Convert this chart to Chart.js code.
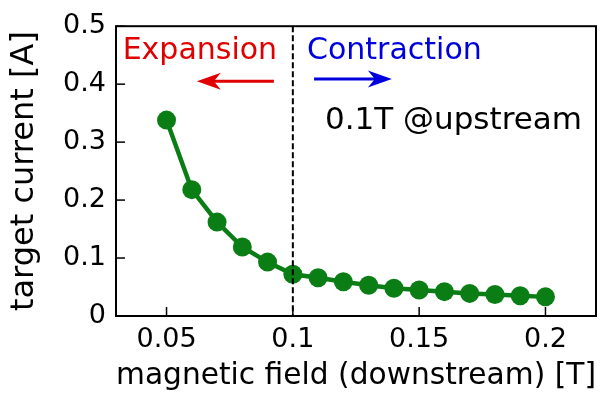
<!DOCTYPE html>
<html>
<head>
<meta charset="UTF-8">
<title>target current vs magnetic field</title>
<script src="https://cdn.jsdelivr.net/npm/chart.js"></script>
<style>
  html, body { margin: 0; padding: 0; background: #fff; }
  #wrap { width: 607px; height: 397px; }
</style>
</head>
<body>
<div id="wrap"><canvas id="chart" width="607" height="397"></canvas></div>
<script>
// data
const fieldDown = [0.05, 0.06, 0.07, 0.08, 0.09, 0.10, 0.11, 0.12, 0.13, 0.14, 0.15, 0.16, 0.17, 0.18, 0.19, 0.20];
const current   = [0.338, 0.218, 0.162, 0.119, 0.093, 0.072, 0.066, 0.059, 0.053, 0.048, 0.045, 0.042, 0.039, 0.037, 0.035, 0.033];
const xTicks = [0.05, 0.1, 0.15, 0.2];
const yTicks = [0, 0.1, 0.2, 0.3, 0.4, 0.5];
const boundary = 0.1;

const FONT = '"DejaVu Sans", sans-serif';
const green = '#0a7d14';

// frame, inward ticks, dashed line and the labels
const decor = {
    id: 'decor',
    afterDatasetsDraw(chart) {
        const { ctx, chartArea: a, scales: { x, y } } = chart;
        ctx.save();

        // dashed boundary
        const bx = x.getPixelForValue(boundary);
        ctx.strokeStyle = '#000';
        ctx.lineWidth = 2;
        ctx.setLineDash([6, 3]);
        ctx.beginPath();
        ctx.moveTo(bx, a.top);
        ctx.lineTo(bx, a.bottom);
        ctx.stroke();
        ctx.setLineDash([]);

        // tick marks pointing in
        ctx.lineWidth = 1.5;
        xTicks.forEach(v => {
            const px = x.getPixelForValue(v);
            ctx.beginPath();
            ctx.moveTo(px, a.bottom);
            ctx.lineTo(px, a.bottom - 9);
            ctx.stroke();
        });
        yTicks.forEach(v => {
            const py = y.getPixelForValue(v);
            ctx.beginPath();
            ctx.moveTo(a.left, py);
            ctx.lineTo(a.left + 9, py);
            ctx.stroke();
        });

        // box
        ctx.lineWidth = 2;
        ctx.strokeRect(a.left, a.top, a.right - a.left, a.bottom - a.top);

        // text labels
        ctx.textBaseline = 'middle';
        ctx.font = '30px ' + FONT;
        ctx.fillStyle = '#e00000';
        ctx.textAlign = 'center';
        ctx.fillText('Expansion', x.getPixelForValue(0.0632), y.getPixelForValue(0.457));
        ctx.fillStyle = '#0000dd';
        ctx.textAlign = 'left';
        ctx.fillText('Contraction', x.getPixelForValue(0.1056), y.getPixelForValue(0.457));
        ctx.fillStyle = '#000';
        ctx.font = '31px ' + FONT;
        ctx.fillText('0.1T @upstream', x.getPixelForValue(0.1127), y.getPixelForValue(0.337));

        // arrows
        function arrow(x0, x1, yv, col) {
            const p0 = x.getPixelForValue(x0), p1 = x.getPixelForValue(x1), py = y.getPixelForValue(yv);
            const dir = Math.sign(p1 - p0);
            ctx.strokeStyle = col;
            ctx.fillStyle = col;
            ctx.lineWidth = 3;
            ctx.beginPath();
            ctx.moveTo(p0, py);
            ctx.lineTo(p1 - dir * 14, py);
            ctx.stroke();
            ctx.beginPath();
            ctx.moveTo(p1, py);
            ctx.lineTo(p1 - dir * 24, py - 8.5);
            ctx.lineTo(p1 - dir * 17, py);
            ctx.lineTo(p1 - dir * 24, py + 8.5);
            ctx.closePath();
            ctx.fill();
        }
        arrow(0.0925, 0.062, 0.405, '#e00000');
        arrow(0.1084, 0.1392, 0.409, '#0000dd');

        ctx.restore();
    }
};

const ctx = document.getElementById('chart').getContext('2d');
new Chart(ctx, {
    type: 'line',
    data: {
        datasets: [{
            data: fieldDown.map((f, i) => ({ x: f, y: current[i] })),
            borderColor: green,
            backgroundColor: green,
            borderWidth: 4.5,
            pointRadius: 9.5,
            pointHoverRadius: 9.5,
            pointBackgroundColor: green,
            pointBorderWidth: 0,
            tension: 0
        }]
    },
    options: {
        responsive: false,
        animation: false,
        layout: { padding: { top: 25, right: 11, left: 0, bottom: 0 } },
        plugins: { legend: { display: false }, tooltip: { enabled: false } },
        scales: {
            x: {
                type: 'linear',
                min: 0.03,
                max: 0.22,
                afterBuildTicks: s => { s.ticks = xTicks.map(v => ({ value: v })); },
                afterFit: s => { s.height = 81; },
                grid: { display: false, drawTicks: false },
                border: { display: false },
                ticks: {
                    color: '#000',
                    font: { family: FONT, size: 27 },
                    padding: 8,
                    maxRotation: 0,
                    callback: v => String(v)
                },
                title: {
                    display: true,
                    text: 'magnetic field (downstream) [T]',
                    color: '#000',
                    font: { family: FONT, size: 31 },
                    padding: { top: 0, bottom: 2 }
                }
            },
            y: {
                min: 0,
                max: 0.5,
                afterBuildTicks: s => { s.ticks = yTicks.map(v => ({ value: v })); },
                afterFit: s => { s.width = 116; },
                grid: { display: false, drawTicks: false },
                border: { display: false },
                ticks: {
                    color: '#000',
                    font: { family: FONT, size: 27 },
                    padding: 10,
                    callback: v => String(v)
                },
                title: {
                    display: true,
                    text: 'target current [A]',
                    color: '#000',
                    font: { family: FONT, size: 32 },
                    padding: { top: 5, bottom: 0 }
                }
            }
        }
    },
    plugins: [decor]
});
</script>
</body>
</html>
